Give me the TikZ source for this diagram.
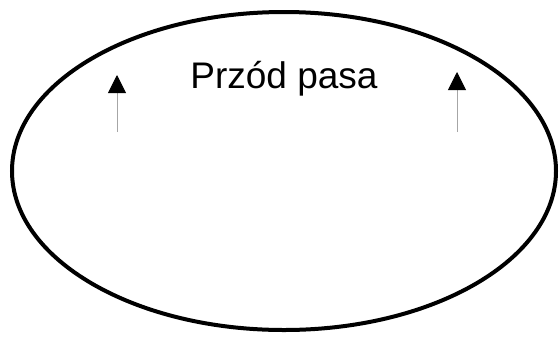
\documentclass[tikz,border=0pt]{standalone}
\usepackage{fontspec}
\setmainfont{Liberation Sans}
\usetikzlibrary{arrows.meta,shapes.geometric}
\tikzset{
  belt/.style = {ellipse, draw=black, line width=4pt, inner sep=0pt,
    minimum width=544pt, minimum height=318pt},% pas
  label/.style = {font=\fontsize{37}{40}\selectfont, inner sep=0pt, anchor=base},
  dirarrow/.style = {draw=black!35, line width=0.9pt,
    -{Triangle[width=18pt,length=18pt,color=black]}}% strzalka kierunku
}

\begin{document}
\begin{tikzpicture}[x=1pt,y=-1pt]
	\useasboundingbox (0,0) rectangle (559,338);
	\node [belt] (pas) at (284,171) {};
	\node [label] (napis) at (284,88) {Przód pasa};
	\coordinate (l0) at (117,132);
	\coordinate (l1) at (117,75);
	\coordinate (r0) at (457,132);
	\coordinate (r1) at (457,72);
	\draw [dirarrow] (l0) -- (l1);
	\draw [dirarrow] (r0) -- (r1);
\end{tikzpicture}
\end{document}
